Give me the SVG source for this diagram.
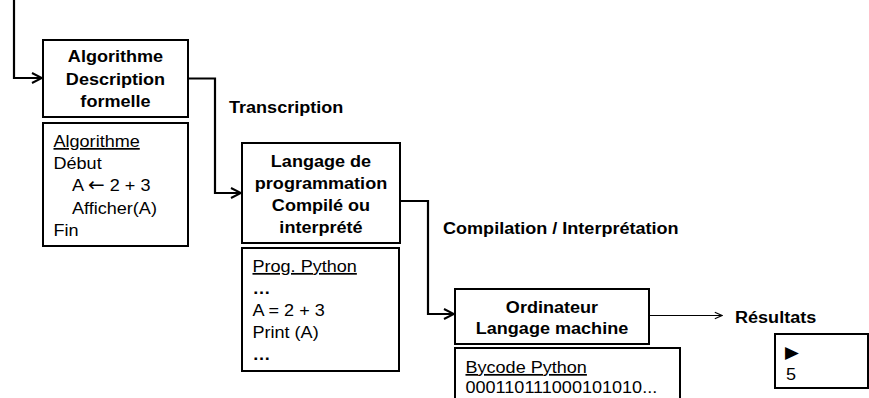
<svg xmlns="http://www.w3.org/2000/svg" width="869" height="398" viewBox="0 0 869 398">
  <style>
    .box { fill: #ffffff; stroke: #000000; stroke-width: 2; }
    .wire { fill: none; stroke: #000000; stroke-width: 2.2; }
    .thin { fill: none; stroke: #000000; stroke-width: 1.2; }
    text { font-family: "Liberation Sans", Arial, Helvetica, sans-serif; font-size: 17.2px; fill: #000000;
           transform-box: fill-box; transform: scaleX(1.05); }
    .b { font-weight: bold; }
    .mid { text-anchor: middle; transform-origin: center; }
    .left { transform-origin: left center; }
    .u { text-decoration: underline; }
    .sym { font-family: "DejaVu Sans", sans-serif; }
  </style>
  <defs>
    <marker id="vee" viewBox="0 0 12 12" refX="11" refY="6" markerWidth="12" markerHeight="12" markerUnits="userSpaceOnUse" orient="auto">
      <polyline points="1,1 11,6 1,11" fill="none" stroke="#000000" stroke-width="2"/>
    </marker>
    <marker id="veeThin" viewBox="0 0 10 10" refX="9" refY="5" markerWidth="9" markerHeight="9" markerUnits="userSpaceOnUse" orient="auto">
      <polyline points="1,1.5 9,5 1,8.5" fill="none" stroke="#000000" stroke-width="1.2"/>
    </marker>
  </defs>

  <!-- connectors -->
  <g id="connectors">
    <polyline class="wire" points="14,0 14,78 42,78" marker-end="url(#vee)"/>
    <polyline class="wire" points="188,78.5 215,78.5 215,193 241,193" marker-end="url(#vee)"/>
    <polyline class="wire" points="400,201 428,201 428,314 454,314" marker-end="url(#vee)"/>
    <polyline class="thin" points="649,315.5 722,315.5" marker-end="url(#veeThin)"/>
    <text class="b left" x="229" y="113">Transcription</text>
    <text class="b left" x="443" y="234.5">Compilation / Interprétation</text>
    <text class="b left" x="735" y="323">Résultats</text>
  </g>

  <!-- formal description -->
  <g id="algo-title">
    <rect class="box" x="43" y="40" width="145" height="77"/>
    <text class="b mid" x="115.5" y="62">Algorithme</text>
    <text class="b mid" x="115.5" y="85">Description</text>
    <text class="b mid" x="115.5" y="107">formelle</text>
  </g>

  <g id="algo-code">
    <rect class="box" x="43" y="123" width="145" height="123"/>
    <text class="left u" x="53.5" y="147">Algorithme</text>
    <text class="left" x="53.5" y="169">Début</text>
    <text class="left" x="72" y="191.5">A <tspan class="sym" font-size="19">←</tspan> 2 + 3</text>
    <text class="left" x="72" y="214">Afficher(A)</text>
    <text class="left" x="53.5" y="236">Fin</text>
  </g>

  <!-- programming language -->
  <g id="lang-title">
    <rect class="box" x="242" y="143" width="158" height="100"/>
    <text class="b mid" x="321" y="167">Langage de</text>
    <text class="b mid" x="321" y="189">programmation</text>
    <text class="b mid" x="321" y="211.5">Compilé ou</text>
    <text class="b mid" x="321" y="233.5">interprété</text>
  </g>

  <g id="lang-code">
    <rect class="box" x="242" y="248" width="157" height="123"/>
    <text class="left u" x="252.5" y="272">Prog. Python</text>
    <text class="left b" x="252.5" y="294">…</text>
    <text class="left" x="252.5" y="316">A = 2 + 3</text>
    <text class="left" x="252.5" y="338.5">Print (A)</text>
    <text class="left b" x="252.5" y="360">…</text>
  </g>

  <!-- machine -->
  <g id="machine-title">
    <rect class="box" x="455" y="289" width="194" height="55"/>
    <text class="b mid" x="552" y="313">Ordinateur</text>
    <text class="b mid" x="552" y="334">Langage machine</text>
  </g>

  <g id="machine-code">
    <rect class="box" x="455" y="348" width="225" height="62"/>
    <text class="left u" x="465.5" y="373">Bycode Python</text>
    <text class="left" x="465.5" y="393.5">000110111000101010...</text>
  </g>

  <!-- output -->
  <g id="output">
    <rect class="box" x="775" y="334" width="93" height="54"/>
    <text class="left sym" x="785" y="358" font-size="17.5">▶</text>
    <text class="left" x="786" y="380">5</text>
  </g>
</svg>
